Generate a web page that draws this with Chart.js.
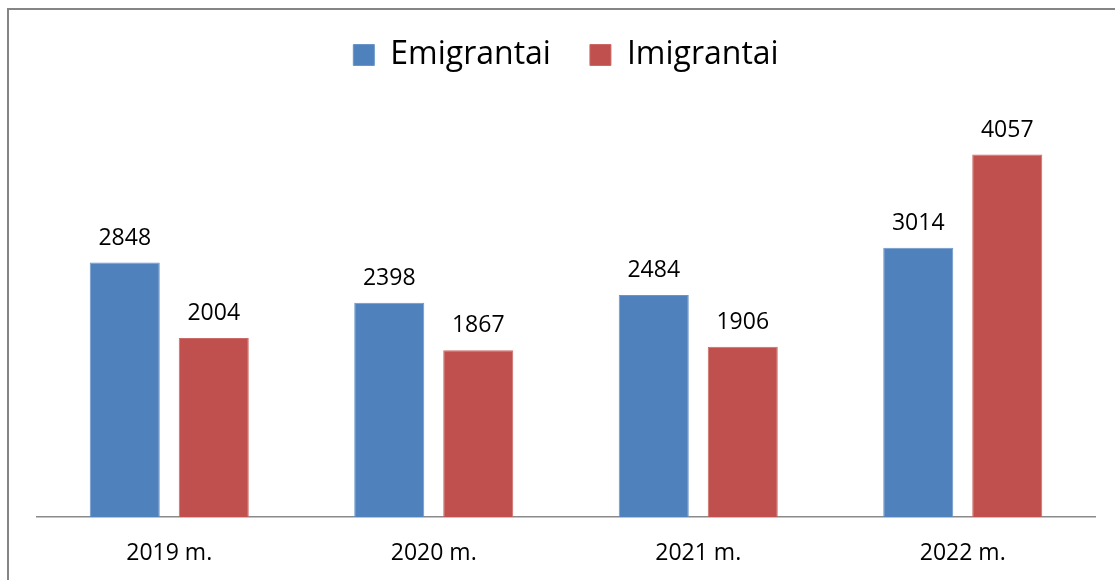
<!DOCTYPE html>
<html>
<head>
<meta charset="utf-8">
<script src="https://cdn.jsdelivr.net/npm/chart.js@4"></script>
<style>
  html, body { margin: 0; padding: 0; background: #ffffff; }
  #wrap { position: relative; width: 1115px; height: 580px; overflow: hidden; background: #fff; }
  #frame { position: absolute; left: 7px; top: 8px; width: 1200px; height: 700px; border-left: 2px solid #858585; border-top: 2px solid #858585; box-sizing: border-box; pointer-events: none; }
  canvas { position: absolute; left: 0; top: 0; }
</style>
</head>
<body>
<div id="wrap">
  <canvas id="c" width="1115" height="580"></canvas>
  <div id="frame"></div>
</div>
<script>
const categories = ['2019 m.', '2020 m.', '2021 m.', '2022 m.'];
const seriesNames = ['Emigrantai', 'Imigrantai'];
const emigrantai = [2848, 2398, 2484, 3014];
const imigrantai = [2004, 1867, 1906, 4057];

const FONT = "'Open Sans', 'DejaVu Sans', sans-serif";

const valueLabels = {
  id: 'valueLabels',
  afterDatasetsDraw(chart) {
    const ctx = chart.ctx;
    ctx.save();
    ctx.font = '23px ' + FONT;
    ctx.fillStyle = '#000000';
    ctx.textAlign = 'center';
    ctx.textBaseline = 'alphabetic';
    chart.data.datasets.forEach((ds, i) => {
      const meta = chart.getDatasetMeta(i);
      meta.data.forEach((bar, j) => {
        ctx.fillText(String(ds.data[j]), bar.x, bar.y - 18);
      });
    });
    ctx.restore();
  }
};

new Chart(document.getElementById('c'), {
  type: 'bar',
  data: {
    labels: categories,
    datasets: [
      { label: seriesNames[0], data: emigrantai, backgroundColor: '#4F81BD', borderColor: '#6a95c9', borderWidth: 1 },
      { label: seriesNames[1], data: imigrantai, backgroundColor: '#C0504D', borderColor: '#cc6a67', borderWidth: 1 }
    ]
  },
  options: {
    responsive: false,
    animation: false,
    datasets: { bar: { categoryPercentage: 0.673, barPercentage: 0.787 } },
    layout: { padding: { left: 37, right: 20, top: 0, bottom: 9 } },
    plugins: {
      legend: {
        position: 'top',
        labels: {
          font: { family: FONT, size: 32 },
          color: '#000000',
          boxWidth: 21,
          boxHeight: 21,
          padding: 39
        }
      },
      tooltip: { enabled: false }
    },
    scales: {
      x: {
        grid: { display: false, drawTicks: false },
        border: { display: true, color: '#8a8a8a', width: 1.5 },
        ticks: { font: { family: FONT, size: 23 }, color: '#000000', padding: 23 },
        afterFit(scale) { scale.height = 54; }
      },
      y: {
        display: false,
        min: 0,
        max: 4880
      }
    }
  },
  plugins: [valueLabels]
});
</script>
</body>
</html>
